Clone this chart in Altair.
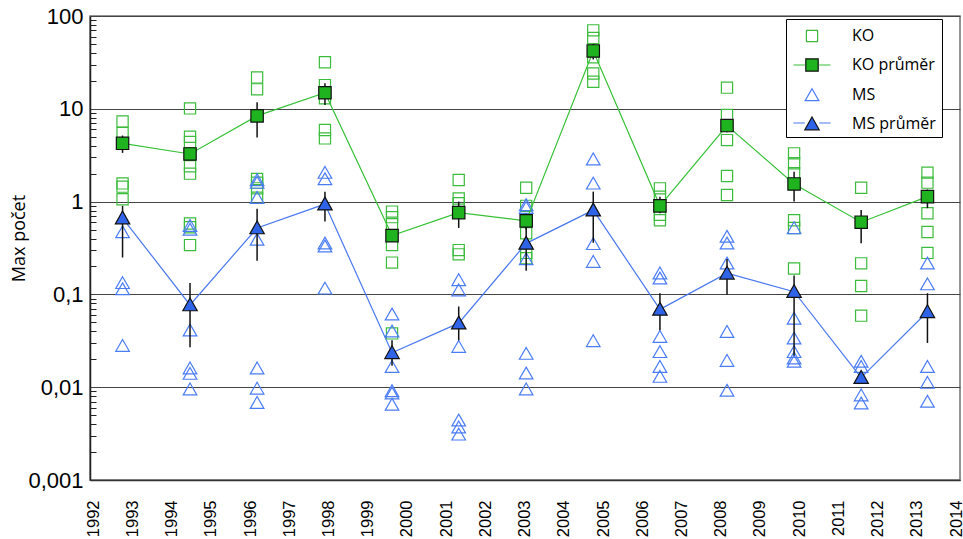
import altair as alt
import pandas as pd

# Sampling campaigns (decimal year of each campaign)
years = [1992.75, 1994.47, 1996.18, 1997.91, 1999.62, 2001.32, 2003.04,
         2004.75, 2006.45, 2008.16, 2009.87, 2011.58, 2013.27]

# KO: individual site maxima per campaign
ko_values = [
    [7.3, 5.5, 1.57, 1.45, 1.06],
    [10.1, 5.0, 4.4, 2.4, 2.0, 0.58, 0.53, 0.34],
    [21.8, 16.2, 1.75, 1.6, 1.39, 1.1],
    [31.7, 18.0, 13.0, 5.9, 4.8],
    [0.78, 0.68, 0.57, 0.34, 0.22, 0.038],
    [1.71, 1.08, 0.96, 0.30, 0.27],
    [1.41, 0.90, 0.455, 0.28, 0.245],
    [70.0, 58.0, 36.0, 24.0, 19.6],
    [1.39, 1.13, 0.72, 0.63],
    [16.9, 8.6, 4.6, 1.89, 1.18],
    [3.31, 2.59, 2.02, 0.63, 0.52, 0.19],
    [1.41, 0.216, 0.123, 0.059],
    [2.05, 1.6, 0.75, 0.47, 0.28],
]

# MS: individual site maxima per campaign
ms_values = [
    [0.47, 0.133, 0.114, 0.028],
    [0.55, 0.50, 0.041, 0.016, 0.014, 0.0095],
    [1.71, 1.6, 1.10, 0.39, 0.016, 0.0097, 0.0068],
    [2.05, 1.75, 0.355, 0.33, 0.116],
    [0.061, 0.040, 0.0166, 0.0091, 0.0086, 0.0065],
    [0.143, 0.111, 0.0273, 0.0044, 0.0037, 0.0031],
    [0.92, 0.86, 0.24, 0.023, 0.0141, 0.0095],
    [2.86, 1.57, 0.35, 0.225, 0.0315],
    [0.169, 0.149, 0.035, 0.024, 0.0166, 0.013],
    [0.42, 0.355, 0.216, 0.0396, 0.0193, 0.0092],
    [0.52, 0.055, 0.0336, 0.024, 0.0205, 0.0189],
    [0.0189, 0.0166, 0.0082, 0.0067],
    [0.216, 0.129, 0.0166, 0.0112, 0.0070],
]

# Campaign means with error-bar limits
ko_mean = [4.25, 3.26, 8.4, 14.9, 0.43, 0.76, 0.62, 42.0, 0.90, 6.6, 1.55, 0.60, 1.13]
ko_low = [3.35, 2.9, 4.9, 11.0, 0.38, 0.52, 0.50, 34.0, 0.75, 5.6, 1.0, 0.355, 0.85]
ko_high = [5.15, 3.6, 11.8, 18.8, 0.48, 1.0, 0.74, 50.0, 1.13, 7.6, 2.1, 0.81, 1.35]

ms_mean = [0.665, 0.077, 0.52, 0.94, 0.0235, 0.049, 0.355, 0.81, 0.069, 0.169, 0.107, 0.0127, 0.065]
ms_low = [0.25, 0.027, 0.23, 0.61, 0.017, 0.032, 0.18, 0.36, 0.041, 0.099, 0.022, 0.0115, 0.030]
ms_high = [0.90, 0.133, 0.84, 1.28, 0.032, 0.074, 0.53, 1.28, 0.103, 0.24, 0.16, 0.014, 0.103]

x_ticks = list(range(1992, 2015))
y_ticks = [0.001, 0.01, 0.1, 1, 10, 100]
y_minor_ticks = [
    0.002, 0.003, 0.004, 0.005, 0.006, 0.007, 0.008, 0.009,
    0.02, 0.03, 0.04, 0.05, 0.06, 0.07, 0.08, 0.09,
    0.2, 0.3, 0.4, 0.5, 0.6, 0.7, 0.8, 0.9,
    2, 3, 4, 5, 6, 7, 8, 9,
    20, 30, 40, 50, 60, 70, 80, 90,
]

series_names = ["KO", "KO průměr", "MS", "MS průměr"]
line_keys = ["KO ", "KO průměr ", "MS ", "MS průměr "]

# ---- tables -------------------------------------------------------------
rows = []
for yr, vals in zip(years, ko_values):
    rows += [{"year": yr, "value": v, "series": "KO"} for v in vals]
for yr, vals in zip(years, ms_values):
    rows += [{"year": yr, "value": v, "series": "MS"} for v in vals]
points_df = pd.DataFrame(rows)

mean_rows = []
for yr, m, lo, hi in zip(years, ko_mean, ko_low, ko_high):
    mean_rows.append({"year": yr, "mean": m, "lo": lo, "hi": hi,
                      "series": "KO průměr", "line_key": "KO průměr "})
for yr, m, lo, hi in zip(years, ms_mean, ms_low, ms_high):
    mean_rows.append({"year": yr, "mean": m, "lo": lo, "hi": hi,
                      "series": "MS průměr", "line_key": "MS průměr "})
means_df = pd.DataFrame(mean_rows)

# ---- styling ------------------------------------------------------------
GREEN_OPEN = "#3cbc3c"
GREEN_FILL = "#1fb31f"
GREEN_LINE = "#35c035"
BLUE_OPEN = "#4a7cf5"
BLUE_FILL = "#2f63e8"
BLUE_LINE = "#4a78f0"
EDGE = "#111111"

SQ_OPEN = "M-0.56,-0.56H0.56V0.56H-0.56Z"
SQ_MEAN = "M-0.62,-0.62H0.62V0.62H-0.62Z"
TRI_OPEN = "M0,-0.62L0.68,0.56L-0.68,0.56Z"
TRI_MEAN = "M0,-0.7L0.72,0.58L-0.72,0.58Z"
STUBS = "M-1.85,0H-0.72M0.72,0H1.85"

SYM_SIZE = 400
SW = 1.2

x_scale = alt.Scale(domain=[1991.92, 2014.1], nice=False, zero=False)
y_scale = alt.Scale(type="log", domain=[0.001, 100], nice=False)

x_axis = alt.Axis(
    values=x_ticks, format="d", labelAngle=-90, labelFont="Liberation Sans",
    labelFontSize=16.5, labelColor="black", labelPadding=20, ticks=False,
    tickSize=0, grid=False, title=None, labelFlush=False, labelOverlap=False,
    domainColor="#333333", domainWidth=1.5,
)
y_axis = alt.Axis(
    values=y_ticks, labelExpr="replace(toString(datum.value), '.', ',')",
    labelFont="Liberation Sans", labelFontSize=22, labelColor="black",
    labelPadding=7, ticks=False, grid=True, gridColor="#444444",
    gridWidth=1.2, domainColor="#222222", domainWidth=1.5, orient="left",
    title="Max počet", titleFont="Open Sans", titleFontSize=18,
    titleFontWeight="normal", titleColor="black", titleAngle=270,
    titleAlign="center", titleBaseline="middle", titleX=-71, titleY=222,
)
y_minor_axis = alt.Axis(
    values=y_minor_ticks, orient="left", labels=False, domain=False,
    grid=False, ticks=True, tickSize=6, tickColor="#222222", tickWidth=1,
    offset=-6, title=None,
)

legend_common = dict(
    orient="none", legendX=696, legendY=3, title=None,
    symbolSize=SYM_SIZE, symbolStrokeWidth=SW, symbolOffset=9,
    labelOffset=29, labelFont="Open Sans", labelFontSize=16,
    labelColor="black", rowPadding=10, padding=6, labelLimit=400,
    symbolOpacity=1,
)
marker_legend = alt.Legend(zindex=2, **legend_common)
line_legend = alt.Legend(zindex=1, fillColor="white", strokeColor="black",
                         labelOpacity=0, symbolType=STUBS, **legend_common)

shape_scale = alt.Scale(domain=series_names,
                        range=[SQ_OPEN, SQ_MEAN, TRI_OPEN, TRI_MEAN])
fill_scale = alt.Scale(domain=series_names,
                       range=["transparent", GREEN_FILL, "transparent", BLUE_FILL])
stroke_scale = alt.Scale(domain=series_names,
                         range=[GREEN_OPEN, EDGE, BLUE_OPEN, EDGE])
line_scale = alt.Scale(domain=line_keys,
                       range=["transparent", GREEN_LINE, "transparent", BLUE_LINE])

marker_enc = dict(
    shape=alt.Shape("series:N", scale=shape_scale, legend=marker_legend),
    fill=alt.Fill("series:N", scale=fill_scale, legend=marker_legend),
    stroke=alt.Stroke("series:N", scale=stroke_scale, legend=marker_legend),
)

x_enc = alt.X("year:Q", scale=x_scale, axis=x_axis)

# ---- layers -------------------------------------------------------------
open_points = alt.Chart(points_df).mark_point(
    size=SYM_SIZE, strokeWidth=SW, opacity=1
).encode(
    x=x_enc,
    y=alt.Y("value:Q", scale=y_scale, axis=y_axis),
    **marker_enc,
)

mean_lines = alt.Chart(means_df).mark_line(strokeWidth=SW).encode(
    x=x_enc,
    y=alt.Y("mean:Q", axis=None),
    color=alt.Color("line_key:N", scale=line_scale, legend=line_legend),
)

error_bars = alt.Chart(means_df).mark_rule(color=EDGE, strokeWidth=1.5).encode(
    x=x_enc,
    y=alt.Y("lo:Q", axis=y_minor_axis),
    y2="hi:Q",
)

mean_points = alt.Chart(means_df).mark_point(
    size=SYM_SIZE, strokeWidth=SW, opacity=1
).encode(
    x=x_enc,
    y=alt.Y("mean:Q", axis=None),
    **marker_enc,
)

chart = alt.layer(open_points, mean_lines, error_bars, mean_points).resolve_axis(
    y="independent"
).properties(
    width=870, height=464,
    padding={"left": 90, "top": 16, "right": 3, "bottom": 59},
    autosize=alt.AutoSizeParams(type="none"),
    background="white",
).configure_view(stroke="#707070", strokeWidth=1.5)

chart.save("out.html", embed_options={"renderer": "svg", "actions": False})
